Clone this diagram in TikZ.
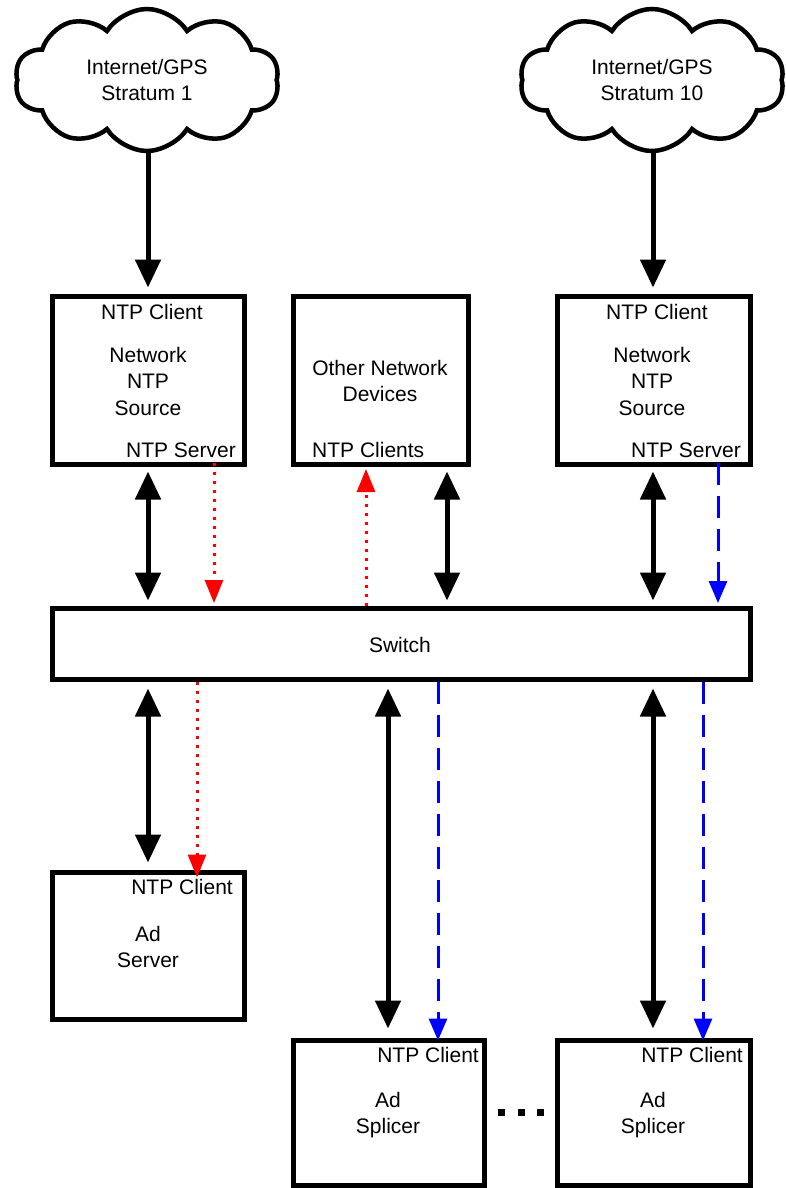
\documentclass[tikz,border=0pt]{standalone}
\usepackage{fontspec}
\setmainfont{Liberation Sans}
\usetikzlibrary{arrows.meta,shapes.symbols,calc}
\begin{document}
\begin{tikzpicture}[x=1pt,y=-1pt,
  every node/.style={font=\fontsize{21}{26.5}\selectfont},
  boxnode/.style={draw, line width=5pt, inner sep=0pt},
  txt/.style={inner sep=0pt, align=center},
  cloudnode/.style={draw, cloud, cloud puffs=10, cloud puff arc=115, cloud ignores aspect,
     line width=4.5pt, minimum width=264pt, minimum height=142pt, align=center, inner sep=0pt},
  blk/.style={line width=5pt, -{Triangle[width=25pt,length=28pt]}},
  dbl/.style={line width=5pt, {Triangle[width=25pt,length=28pt]}-{Triangle[width=25pt,length=28pt]}},
  reddot/.style={red, line width=3pt, dash pattern=on 3pt off 6pt, -{Triangle[width=18pt,length=23pt]}},
  bluedash/.style={blue, line width=3pt, dash pattern=on 22pt off 11pt, -{Triangle[width=18pt,length=22pt]}},
  dotsq/.style={fill=black, inner sep=0pt, minimum size=7pt}
]
\useasboundingbox (0,0) rectangle (785,1188);

% clouds
\node[cloudnode] (c1) at (147,80) {Internet/GPS\\Stratum 1};
\node[cloudnode] (c2) at (652,80) {Internet/GPS\\Stratum 10};

% boxes
\node[boxnode, minimum width=192pt, minimum height=168pt] (b1) at (148,380) {};
\node[boxnode, minimum width=175pt, minimum height=168pt] (b2) at (380.5,380) {};
\node[boxnode, minimum width=193pt, minimum height=168pt] (b3) at (653.5,380) {};
\node[boxnode, minimum width=698pt, minimum height=71pt] (sw) at (401,643.5) {};
\node[boxnode, minimum width=192pt, minimum height=147pt] (as) at (148,945.5) {};
\node[boxnode, minimum width=191pt, minimum height=145pt] (s1) at (388.5,1112.5) {};
\node[boxnode, minimum width=193pt, minimum height=145pt] (s2) at (653.5,1112.5) {};

% texts
\node[txt] (t1a) at (152,312) {NTP Client};
\node[txt] (t1b) at (148,381) {Network\\NTP\\Source};
\node[txt, anchor=east] (t1c) at (236,450) {NTP Server};
\node[txt] (t2a) at (380,381) {Other Network\\Devices};
\node[txt, anchor=west] (t2b) at (312,450) {NTP Clients};
\node[txt] (t3a) at (657,312) {NTP Client};
\node[txt] (t3b) at (652,381) {Network\\NTP\\Source};
\node[txt, anchor=east] (t3c) at (741,450) {NTP Server};
\node[txt] (tsw) at (400,645) {Switch};
\node[txt, anchor=east] (tasa) at (233,887) {NTP Client};
\node[txt] (tasb) at (148,947) {Ad\\Server};
\node[txt, anchor=east] (ts1a) at (479,1055) {NTP Client};
\node[txt] (ts1b) at (388,1115) {Ad\\Splicer};
\node[txt, anchor=east] (ts2a) at (743,1055) {NTP Client};
\node[txt] (ts2b) at (653,1115) {Ad\\Splicer};

% ellipsis
\node[dotsq] (d1) at (501,1112) {};
\node[dotsq] (d2) at (521,1112) {};
\node[dotsq] (d3) at (540,1112) {};

% coordinates for connector columns
\coordinate (x148) at (148,0);
\coordinate (x447) at (447,0);
\coordinate (x653) at (653,0);
\coordinate (x388) at (388,0);
\coordinate (x214) at (214,0);
\coordinate (x366) at (366,0);
\coordinate (x718) at (718,0);
\coordinate (x197) at (197,0);
\coordinate (x438) at (438,0);
\coordinate (x703) at (703,0);

% cloud to source
\draw[blk, shorten >=6pt] (c1.south -| x148) -- (b1.north -| x148);
\draw[blk, shorten >=6pt] (c2.south -| x653) -- (b3.north -| x653);

% upper double arrows
\draw[dbl, shorten <=5pt, shorten >=5pt] (b1.south -| x148) -- (sw.north -| x148);
\draw[dbl, shorten <=5pt, shorten >=5pt] (b2.south -| x447) -- (sw.north -| x447);
\draw[dbl, shorten <=5pt, shorten >=5pt] (b3.south -| x653) -- (sw.north -| x653);

% lower double arrows
\draw[dbl, shorten <=7pt, shorten >=7pt] (sw.south -| x148) -- (as.north -| x148);
\draw[dbl, shorten <=7pt, shorten >=9pt] (sw.south -| x388) -- (s1.north -| x388);
\draw[dbl, shorten <=7pt, shorten >=9pt] (sw.south -| x653) -- (s2.north -| x653);

% red dotted
\draw[reddot, shorten <=-4pt, shorten >=2.5pt] (b1.south -| x214) -- (sw.north -| x214);
\draw[reddot, shorten >=2.5pt] (sw.north -| x366) -- (b2.south -| x366);
\draw[reddot, shorten >=-8pt] (sw.south -| x197) -- (as.north -| x197);

% blue dashed
\draw[bluedash, shorten <=-4pt, shorten >=2.5pt] (b3.south -| x718) -- (sw.north -| x718);
\draw[bluedash, shorten >=-3pt] (sw.south -| x438) -- (s1.north -| x438);
\draw[bluedash, shorten >=-3pt] (sw.south -| x703) -- (s2.north -| x703);
\end{tikzpicture}
\end{document}
